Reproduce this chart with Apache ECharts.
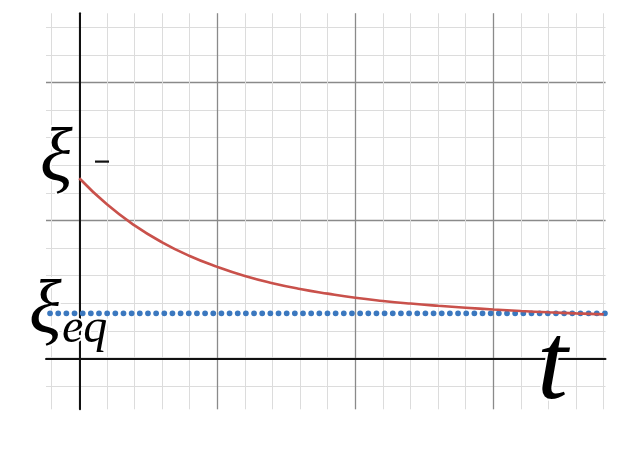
<!DOCTYPE html>
<html><head><meta charset="utf-8">
<script src="https://cdn.jsdelivr.net/npm/echarts@6/dist/echarts.min.js"></script>
<style>html,body{margin:0;padding:0;background:#fff}#c{width:627px;height:449px}</style>
</head><body><div id="c"></div>
<script>
// data (in axis units: one major square = 1)
const curveX = [0, 0.2, 0.4, 0.6, 0.8, 1.0, 1.2, 1.4, 1.6, 1.8, 2.0, 2.2, 2.4, 2.6, 2.8, 3.0, 3.2, 3.4, 3.6, 3.8];
const curveY = [1.306, 1.117, 0.965, 0.842, 0.743, 0.664, 0.598, 0.546, 0.504, 0.470, 0.440, 0.417, 0.398, 0.382, 0.368, 0.355, 0.344, 0.335, 0.327, 0.320];
const eqX = [-0.212, 3.813];
const eqValue = 0.3275;
const labelMinus = 'ξ';
const labelEq = ['ξ', 'eq'];
const labelT = 't';

// layout
const X0 = 79.3, Y0 = 358.5, U = 138;
const px = v => X0 + v * U, py = v => Y0 - v * U;
const TOP = 13.3, BOT = 409.3, LEFT = 46, RIGHT = 605.5;
const minorC = '#dcdcdc', majorC = '#8a8a8a';

const hid = {show: false};
function gridBox(l, r, t, b) { return {left: l, top: t, width: r - l, height: b - t, containLabel: false}; }

const chart = echarts.init(document.getElementById('c'), null, {renderer: 'canvas'});
const grids = [
  gridBox(px(-0.2), px(3.8), TOP, BOT),        // minor vertical
  gridBox(LEFT, RIGHT, py(2.4), py(-0.2)),     // minor horizontal
  gridBox(px(0), px(3), TOP, BOT),             // major vertical
  gridBox(LEFT, RIGHT, py(2), py(0)),          // major horizontal
  gridBox(LEFT, RIGHT, TOP, BOT)               // data
];
const xAxes = [
  {gridIndex: 0, type: 'value', min: -0.2, max: 3.8, interval: 0.2, axisLine: hid, axisTick: hid, axisLabel: hid, splitLine: {show: true, lineStyle: {color: minorC, width: 1}}},
  {gridIndex: 1, type: 'value', min: 0, max: 1, show: false},
  {gridIndex: 2, type: 'value', min: 0, max: 3, interval: 1, axisLine: hid, axisTick: hid, axisLabel: hid, splitLine: {show: true, lineStyle: {color: majorC, width: 1.3}}},
  {gridIndex: 3, type: 'value', min: 0, max: 1, show: false},
  {gridIndex: 4, type: 'value', min: (LEFT - X0) / U, max: (RIGHT - X0) / U, axisLine: {show: true, onZero: true, lineStyle: {color: '#111', width: 2}}, axisTick: hid, axisLabel: hid, splitLine: hid}
];
const yAxes = [
  {gridIndex: 0, type: 'value', min: 0, max: 1, show: false},
  {gridIndex: 1, type: 'value', min: -0.2, max: 2.4, interval: 0.2, axisLine: hid, axisTick: hid, axisLabel: hid, splitLine: {show: true, lineStyle: {color: minorC, width: 1}}},
  {gridIndex: 2, type: 'value', min: 0, max: 1, show: false},
  {gridIndex: 3, type: 'value', min: 0, max: 2, interval: 1, axisLine: hid, axisTick: hid, axisLabel: hid, splitLine: {show: true, lineStyle: {color: majorC, width: 1.3}}},
  {gridIndex: 4, type: 'value', min: (Y0 - BOT) / U, max: (Y0 - TOP) / U, axisLine: {show: true, onZero: true, lineStyle: {color: '#111', width: 2}}, axisTick: hid, axisLabel: hid, splitLine: hid}
];

const txt = {fill: '#000', stroke: '#fff', lineWidth: 4};
chart.setOption({
  animation: false,
  backgroundColor: '#fff',
  grid: grids, xAxis: xAxes, yAxis: yAxes,
  series: [
    {type: 'line', xAxisIndex: 4, yAxisIndex: 4, symbol: 'none', silent: true, z: 3,
     data: eqX.map(x => [x, eqValue]),
     lineStyle: {color: '#3b78bf', width: 5.8, type: [0.01, 8.15], cap: 'round'}},
    {type: 'line', xAxisIndex: 4, yAxisIndex: 4, symbol: 'none', silent: true, smooth: true, z: 4,
     data: curveX.map((x, i) => [x, curveY[i]]),
     lineStyle: {color: '#c9514b', width: 2.6}}
  ],
  graphic: [
    {type: 'text', left: 38, top: 121, z: 10, style: Object.assign({text: labelMinus, font: 'italic 76px "Liberation Serif"'}, txt)},
    {type: 'rect', left: 95, top: 160.5, z: 10, shape: {width: 14, height: 2.2}, style: {fill: '#111'}},
    {type: 'text', left: 27, top: 273, z: 10, style: Object.assign({text: labelEq[0], font: 'italic 76px "Liberation Serif"'}, txt)},
    {type: 'text', left: 60, top: 303, z: 10, style: Object.assign({text: labelEq[1], font: 'italic 48px "Liberation Serif"'}, txt)},
    {type: 'text', left: 535, top: 311, z: 10, style: Object.assign({text: labelT, font: 'italic 111px "Liberation Serif"'}, txt)}
  ]
});
</script></body></html>
